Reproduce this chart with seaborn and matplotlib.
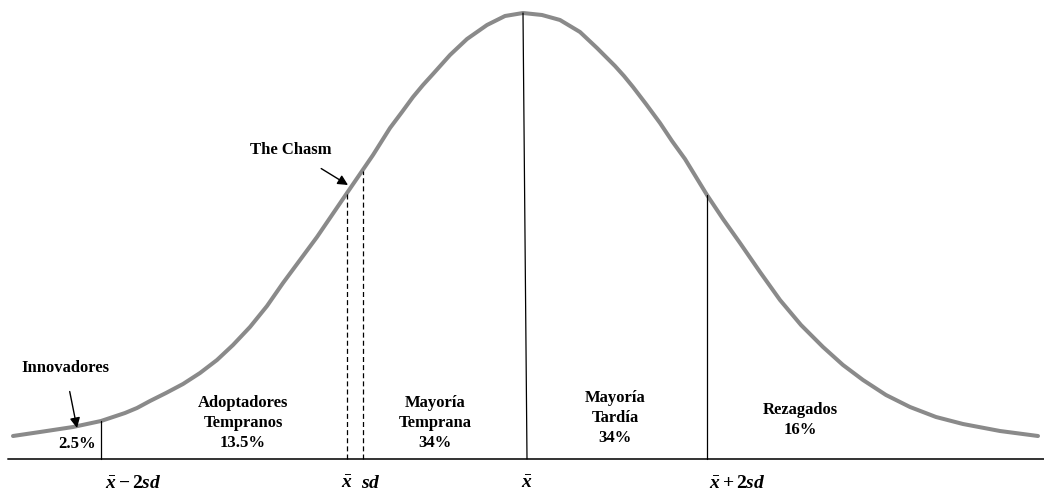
import matplotlib
matplotlib.use("Agg")
import matplotlib.pyplot as plt
import seaborn as sns
import pandas as pd

# ---- data (x position, height above baseline) ----
curve_x = [13, 40, 73, 101, 113, 125, 137, 150, 166, 183, 200, 217, 233, 250,
           267, 283, 300, 317, 332, 347, 360, 373, 390, 402, 413, 423, 433,
           450, 467, 487, 505, 523, 542, 560, 580, 597, 606, 615, 624, 633,
           646, 660, 672, 685, 696, 707, 723, 740, 760, 780, 801, 823, 843,
           863, 886, 910, 936, 963, 1000, 1038]
curve_y = [23, 27, 32, 38, 42, 46, 51, 58, 66, 75, 86, 99, 114, 132,
           153, 176, 199, 222, 244, 266, 285, 304, 331, 347, 362, 374, 385,
           404, 420, 434, 443, 446, 444, 439, 427, 411, 402, 393, 383, 372,
           355, 336, 318, 300, 282, 264, 240, 216, 187, 159, 134, 112, 94,
           79, 64, 52, 42, 35, 28, 23]

solid_x_bottom = [101, 527, 707]
solid_x_top = [101, 523, 707]
solid_top = [38, 446, 264]
dashed_x = [347, 363]
dashed_top = [266, 288]

segment_labels = ["Adoptadores\nTempranos\n13.5%", "Mayoría\nTemprana\n34%",
                  "Mayoría\nTardía\n34%", "Rezagados\n16%"]
segment_x = [243, 435, 615, 800]
segment_y = [36, 36, 41, 39]

axis_labels = [r"$\bar{x} - 2sd$", r"$\bar{x}$", r"$sd$", r"$\bar{x}$", r"$\bar{x} + 2sd$"]
axis_label_x = [133, 347, 371, 527, 737]

sns.set_theme(style="white")
plt.rcParams["font.family"] = ["Liberation Serif", "DejaVu Serif"]
plt.rcParams["mathtext.fontset"] = "custom"
plt.rcParams["mathtext.rm"] = "Liberation Serif:bold"
plt.rcParams["mathtext.it"] = "Liberation Serif:italic:bold"
plt.rcParams["mathtext.bf"] = "Liberation Serif:bold"

fig = plt.figure(figsize=(10.44, 4.92), dpi=100)
ax = fig.add_axes([0, 0, 1, 1])
ax.set_xlim(0, 1044)
ax.set_ylim(-33, 459)
ax.axis("off")

df = pd.DataFrame({"x": curve_x, "y": curve_y})
sns.lineplot(data=df, x="x", y="y", ax=ax, color="#8a8a8a", linewidth=2.9,
             sort=False, estimator=None)
for line in ax.lines:
    line.set_solid_joinstyle("round")
    line.set_solid_capstyle("round")

# baseline
ax.plot([8, 1044], [0, 0], color="#333333", linewidth=1.4)

# solid dividers
for xb, xt, top in zip(solid_x_bottom, solid_x_top, solid_top):
    ax.plot([xb, xt], [0, top], color="black", linewidth=0.9)
# dashed dividers
for xd, top in zip(dashed_x, dashed_top):
    ax.plot([xd, xd], [0, top], color="black", linewidth=0.9, linestyle=(0, (4, 2.5)))

fs = 12
for lab, x, y in zip(segment_labels, segment_x, segment_y):
    ax.text(x, y, lab, ha="center", va="center", fontsize=fs, fontweight="bold",
            linespacing=1.35, color="black")

ax.text(77, 15, "2.5%", ha="center", va="center", fontsize=fs, fontweight="bold",
        color="black")

ax.annotate("Innovadores", xy=(77, 31), xytext=(65, 91), ha="center", va="center",
            fontsize=fs, fontweight="bold", color="black",
            arrowprops=dict(arrowstyle="-|>", color="black", lw=1.0,
                            mutation_scale=15, shrinkA=9, shrinkB=0))
ax.annotate("The Chasm", xy=(348, 274), xytext=(291, 309), ha="center", va="center",
            fontsize=fs, fontweight="bold", color="black",
            arrowprops=dict(arrowstyle="-|>", color="black", lw=1.0,
                            mutation_scale=15, shrinkA=10, shrinkB=0))

for lab, x in zip(axis_labels, axis_label_x):
    ax.text(x, -24, lab, ha="center", va="center", fontsize=14, color="black")

fig.savefig("out.png", dpi=100, facecolor="white")
